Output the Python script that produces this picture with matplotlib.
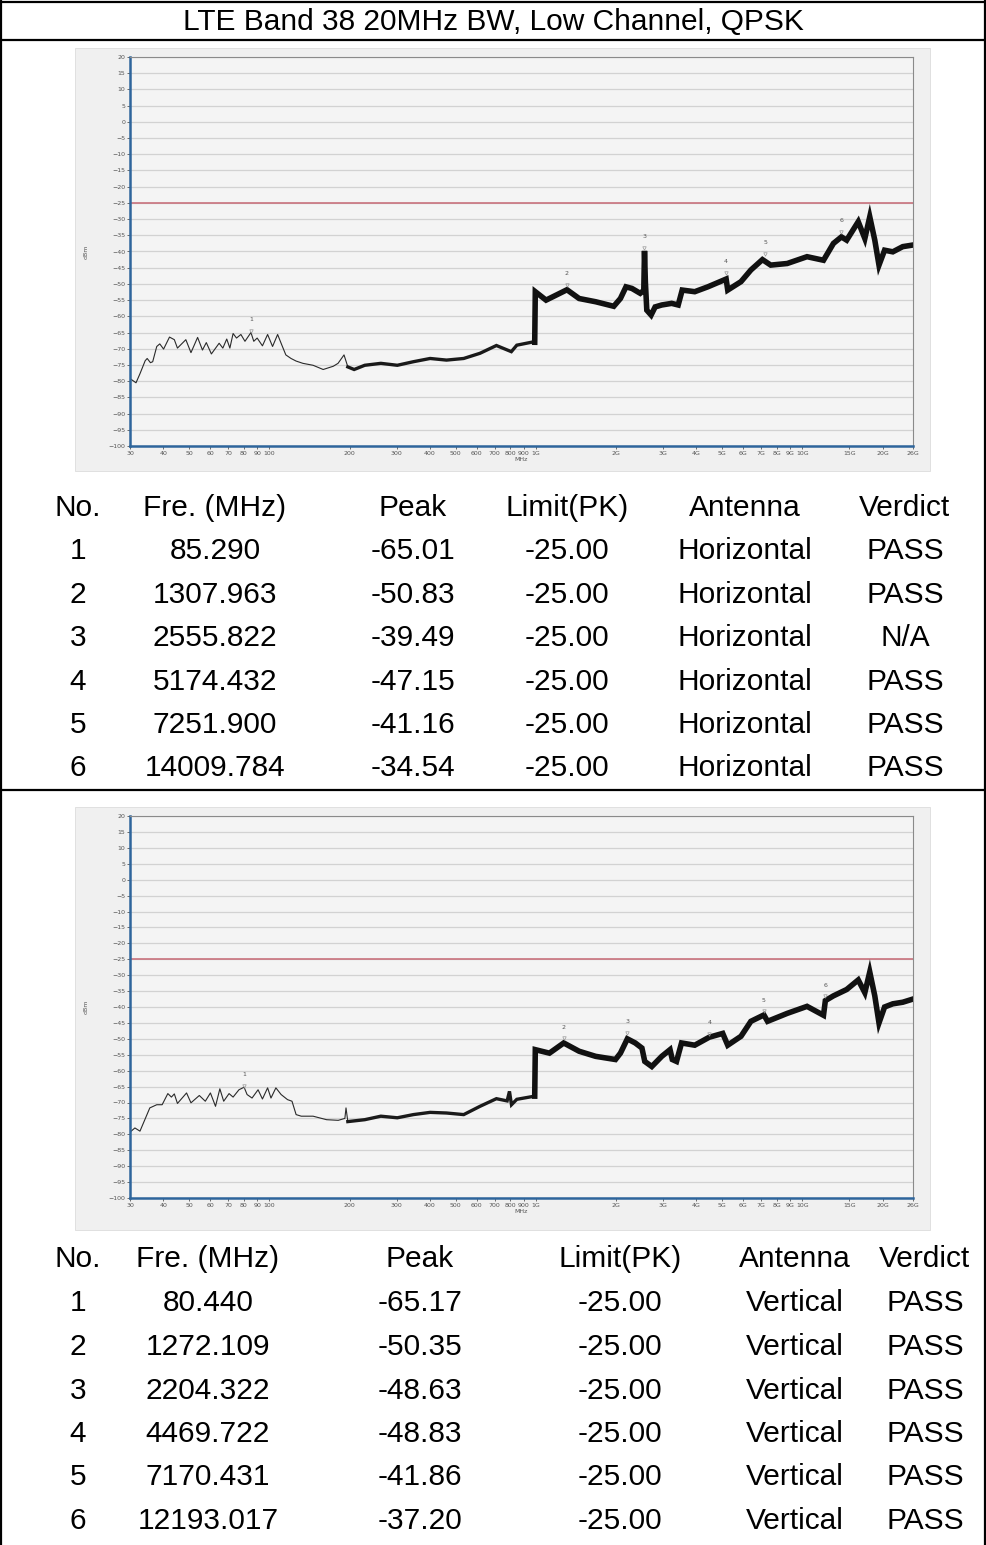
import numpy as np
import matplotlib
matplotlib.use("Agg")
import matplotlib.pyplot as plt
from matplotlib.lines import Line2D
from matplotlib.patches import Rectangle
from matplotlib.ticker import NullLocator

W, H = 987, 1545

title = "LTE Band 38 20MHz BW, Low Channel, QPSK"

# trace, horizontal antenna (MHz, dBm)
h_freq = [30, 31.6, 32.7, 34.2, 34.8, 35.8, 36.5, 37.8, 38.8, 40.1, 42.2, 44.0, 45.2, 48.6,
          50.8, 53.8, 56.1, 58.0, 60.6, 64.8, 66.9, 69.2, 71.1, 73.1, 75.3, 78.2, 81.0, 85.3,
          87.4, 90.0, 94.2, 98.5, 102.8, 107.4, 111.3, 115.3, 120.6, 126, 133.6, 145.9, 159.2,
          173.7, 181, 190.6, 197,
          208, 228, 262, 302, 347, 401, 462, 536, 617, 711, 809, 848, 975, 990,
          995, 1092, 1308, 1453, 1676, 1960, 2076, 2178, 2293, 2463, 2540, 2556, 2575, 2607,
          2706, 2802, 2967, 3232, 3420, 3540, 3945, 4418, 5174, 5246, 5883, 6408, 7081, 7605,
          8772, 10407, 12000, 13075, 14010, 14659, 16200, 17150, 17895, 18690, 19380, 20340,
          21840, 23800, 26000]
h_level = [-79.2, -80.5, -77.7, -73.7, -73.0, -74.3, -74.0, -69.3, -68.5, -70.1, -66.4, -67.2,
           -69.8, -67.2, -71.2, -66.5, -70.4, -68.1, -71.6, -68.3, -69.8, -67.0, -69.8, -65.3,
           -66.7, -65.6, -67.7, -65.0, -67.7, -66.7, -69.1, -65.6, -69.3, -65.6, -68.8, -71.9,
           -73.0, -73.8, -74.5, -75.1, -76.4, -75.4, -74.5, -71.9, -75.6,
           -76.4, -75.1, -74.5, -75.1, -74.0, -73.0, -73.5, -73.0, -71.4, -69.0, -70.9, -68.9,
           -67.9, -68.0,
           -52.4, -55.0, -51.8, -54.5, -55.5, -56.9, -54.5, -50.9, -51.4, -52.9, -52.0, -39.8,
           -49.3, -58.1, -59.6, -57.1, -56.5, -56.0, -56.5, -51.9, -52.4, -50.9, -48.5, -51.9,
           -49.3, -45.7, -42.5, -44.2, -43.7, -41.6, -42.7, -37.5, -35.5, -36.5, -30.8, -36.0,
           -29.3, -36.5, -44.2, -39.6, -40.1, -38.5, -38.0]

# trace, vertical antenna
v_freq = [30, 31.3, 32.7, 35.6, 37.8, 39.6, 41.6, 42.9, 44.0, 45.2, 48.9, 50.8, 54.6, 57.5,
          60.1, 62.8, 65.2, 67.4, 70.6, 73.1, 76.9, 80.4, 82.5, 86.1, 90.7, 94.2, 98.5, 101.4,
          105.8, 110.7, 117, 121.6, 126, 131.7, 145.9, 163.9, 181.3, 192, 193.9, 197,
          228, 262, 302, 347, 401, 462, 536, 617, 711, 780, 796, 810, 848, 975, 990,
          995, 1124, 1272, 1453, 1676, 1989, 2076, 2204, 2360, 2500, 2562, 2722, 2967, 3187,
          3250, 3370, 3520, 3945, 4470, 5024, 5246, 5883, 6408, 7170, 7400, 8772, 10407, 12000,
          12193, 13075, 14659, 16200, 17150, 17895, 18690, 19380, 20340, 21840, 23800, 26000]
v_level = [-79.3, -78.0, -79.0, -71.7, -70.7, -70.7, -67.2, -68.3, -67.3, -70.3, -67.0, -70.1,
           -67.8, -69.6, -67.0, -71.2, -65.7, -69.6, -67.2, -68.3, -66.0, -65.2, -67.5, -68.6,
           -66.0, -68.9, -65.4, -68.6, -65.4, -67.5, -69.1, -69.6, -73.8, -74.3, -74.3, -75.4,
           -75.6, -75.0, -71.7, -76.0,
           -75.4, -74.3, -74.8, -73.8, -73.1, -73.3, -73.8, -71.2, -68.8, -69.5, -66.5, -70.7,
           -69.0, -68.1, -68.0,
           -53.4, -54.5, -51.3, -53.9, -55.5, -56.5, -54.5, -50.0, -51.3, -52.9, -57.1, -58.7,
           -55.5, -53.4, -56.5, -57.1, -51.3, -52.0, -49.5, -48.3, -52.0, -49.2, -44.5, -42.5,
           -44.5, -42.0, -39.8, -42.6, -38.0, -36.5, -34.5, -31.5, -35.5, -29.0, -36.5, -45.0,
           -40.0, -39.0, -38.5, -37.5]

limit = -25.0

header = ["No.", "Fre. (MHz)", "Peak", "Limit(PK)", "Antenna", "Verdict"]

h_no = [1, 2, 3, 4, 5, 6]
h_mk_freq = [85.290, 1307.963, 2555.822, 5174.432, 7251.900, 14009.784]
h_mk_peak = [-65.01, -50.83, -39.49, -47.15, -41.16, -34.54]
h_ant = ["Horizontal"] * 6
h_verdict = ["PASS", "PASS", "N/A", "PASS", "PASS", "PASS"]

v_no = [1, 2, 3, 4, 5, 6]
v_mk_freq = [80.440, 1272.109, 2204.322, 4469.722, 7170.431, 12193.017]
v_mk_peak = [-65.17, -50.35, -48.63, -48.83, -41.86, -37.20]
v_ant = ["Vertical"] * 6
v_verdict = ["PASS"] * 6

xticks = [30, 40, 50, 60, 70, 80, 90, 100, 200, 300, 400, 500, 600, 700, 800, 900,
          1000, 2000, 3000, 4000, 5000, 6000, 7000, 8000, 9000, 10000, 15000, 20000, 26000]
xticklabels = ["30", "40", "50", "60", "70", "80", "90", "100", "200", "300", "400", "500",
               "600", "700", "800", "900", "1G", "2G", "3G", "4G", "5G", "6G", "7G", "8G",
               "9G", "10G", "15G", "20G", "26G"]

FONT = "Liberation Sans"
FS = 21.5


def fx(px):
    return px / W


def fy(py):
    return 1 - py / H


def hline(fig, x0, x1, y, lw=1.6):
    fig.add_artist(Line2D([fx(x0), fx(x1)], [fy(y), fy(y)], transform=fig.transFigure,
                          color="black", lw=lw))


def vline(fig, x, y0, y1, lw=1.6):
    fig.add_artist(Line2D([fx(x), fx(x)], [fy(y0), fy(y1)], transform=fig.transFigure,
                          color="black", lw=lw))


def draw_chart(fig, top, bottom, freq, level, mk_freq, mk_peak):
    # grey screenshot backdrop
    fig.add_artist(Rectangle((fx(75), fy(top + 414)), fx(930) - fx(75), (top + 414 - (top - 9)) / H,
                             transform=fig.transFigure, facecolor="#f0f0f0",
                             edgecolor="#dcdcdc", lw=0.6, zorder=-5))
    ax = fig.add_axes([fx(130), fy(bottom), fx(913) - fx(130), (bottom - top) / H])
    ax.set_facecolor("#f4f4f4")
    ax.set_xscale("log")
    ax.set_xlim(30, 26000)
    ax.set_ylim(-100, 20)
    ax.set_yticks(range(-100, 21, 5))
    ax.set_xticks(xticks)
    ax.set_xticklabels(xticklabels)
    ax.xaxis.set_minor_locator(NullLocator())
    ax.tick_params(labelsize=4.5, colors="#555555", length=2, width=0.6, pad=1.5)
    ax.grid(axis="y", color="#d2d2d2", lw=0.9)
    ax.set_axisbelow(True)
    for s in ["left", "bottom"]:
        ax.spines[s].set_color("#2e659c")
        ax.spines[s].set_linewidth(1.8)
    for s in ["top", "right"]:
        ax.spines[s].set_color("#8a8a8a")
        ax.spines[s].set_linewidth(0.8)
    ax.set_xlabel("MHz", fontsize=4.5, color="#555555", labelpad=1)
    ax.set_ylabel("dBm", fontsize=4.5, color="#555555", labelpad=14)

    ax.axhline(limit, color="#c9737d", lw=1.2)

    f = np.array(freq)
    l = np.array(level)
    thin = f <= 197
    mid = (f >= 197) & (f <= 990)
    high = f >= 990
    ax.plot(f[thin], l[thin], color="#2a2a2a", lw=0.8)
    ax.plot(f[mid], l[mid], color="#1a1a1a", lw=2.4, solid_joinstyle="miter")
    ax.plot(f[high], l[high], color="#111111", lw=4.0, solid_joinstyle="miter")

    for i in range(len(mk_freq)):
        ax.plot(mk_freq[i], mk_peak[i] + 0.5, marker="v", ms=2.5, color="#999999",
                markerfacecolor="none", mew=0.5)
        ax.text(mk_freq[i], mk_peak[i] + 3.2, str(i + 1), fontsize=4.5, color="#555555",
                ha="center", va="bottom")
    return ax


def draw_table(fig, rows_y, cols_x, rows):
    for j, s in enumerate(header):
        fig.text(fx(cols_x[j]), fy(rows_y[0] + 10), s, ha="center", va="baseline",
                 fontsize=FS, family=FONT)
    for i, r in enumerate(rows):
        for j, s in enumerate(r):
            fig.text(fx(cols_x[j]), fy(rows_y[i + 1] + 10), s, ha="center", va="baseline",
                     fontsize=FS, family=FONT)


fig = plt.figure(figsize=(W / 100, H / 100), dpi=100)

# outer frame
hline(fig, 0, W, 1.5)
hline(fig, 0, W, 40)
hline(fig, 0, W, 790)
vline(fig, 1.5, 0, H)
vline(fig, 985.5, 0, H)

fig.text(0.5, fy(30), title, ha="center", va="baseline", fontsize=FS, family=FONT)

draw_chart(fig, 57, 446, h_freq, h_level, h_mk_freq, h_mk_peak)
draw_chart(fig, 816, 1198, v_freq, v_level, v_mk_freq, v_mk_peak)

h_rows = []
for i in range(6):
    h_rows.append([str(h_no[i]), "%.3f" % h_mk_freq[i], "%.2f" % h_mk_peak[i],
                   "%.2f" % limit, h_ant[i], h_verdict[i]])
v_rows = []
for i in range(6):
    v_rows.append([str(v_no[i]), "%.3f" % v_mk_freq[i], "%.2f" % v_mk_peak[i],
                   "%.2f" % limit, v_ant[i], v_verdict[i]])

draw_table(fig, [506, 549, 593, 636, 680, 723, 766], [78, 215, 413, 567, 745, 905], h_rows)
draw_table(fig, [1257, 1301, 1345, 1389, 1432, 1475, 1519], [78, 208, 420, 620, 795, 925], v_rows)

plt.savefig("out.png", dpi=100)
plt.close()
